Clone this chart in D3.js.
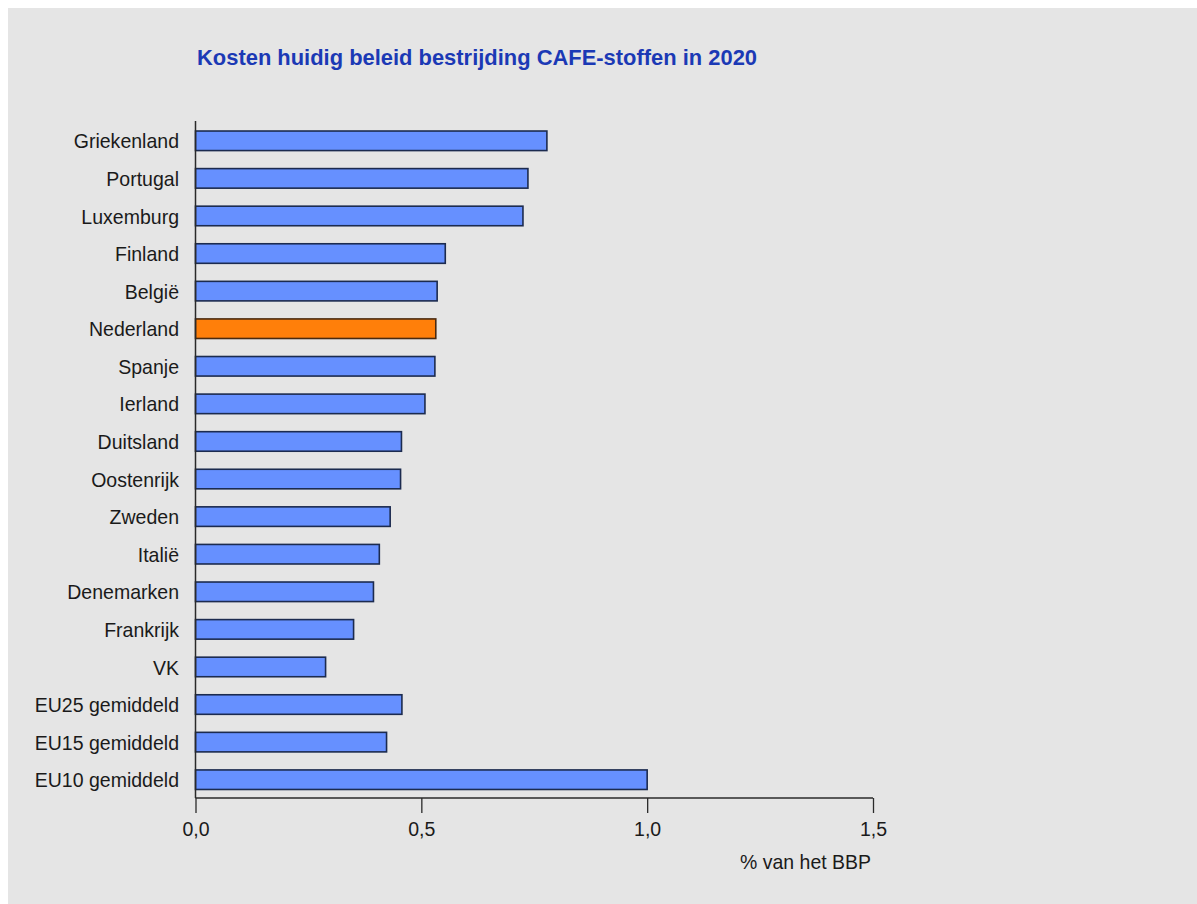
<!DOCTYPE html>
<html>
<head>
<meta charset="utf-8">
<script src="https://cdn.jsdelivr.net/npm/d3@7"></script>
<style>
  html, body { margin: 0; padding: 0; background: #ffffff; }
  svg { display: block; }
</style>
</head>
<body>
<svg id="chart" width="1197" height="904"></svg>
<script>
// Costs of current policy against CAFE substances in 2020, % of GDP
const countries = [
  "Griekenland", "Portugal", "Luxemburg", "Finland", "België", "Nederland",
  "Spanje", "Ierland", "Duitsland", "Oostenrijk", "Zweden", "Italië",
  "Denemarken", "Frankrijk", "VK", "EU25 gemiddeld", "EU15 gemiddeld", "EU10 gemiddeld"
];
const shareOfGdp = [
  0.778, 0.736, 0.725, 0.553, 0.535, 0.532,
  0.530, 0.508, 0.456, 0.454, 0.431, 0.407,
  0.394, 0.350, 0.288, 0.457, 0.423, 1.000
];
const highlighted = ["Nederland"];
const xTicks = [0, 0.5, 1.0, 1.5];
const xTickLabels = ["0,0", "0,5", "1,0", "1,5"];
const titleText = "Kosten huidig beleid bestrijding CAFE-stoffen in 2020";
const unitText = "% van het BBP";

const rows = countries.map((c, i) => ({ name: c, value: shareOfGdp[i] }));
const FONT = "Liberation Sans, Arial, sans-serif";
const CONDENSE = 0.93; // narrow sans look

const svg = d3.select("#chart");

// light grey panel
svg.append("rect")
  .attr("x", 8).attr("y", 8)
  .attr("width", 1197 - 8).attr("height", 904 - 8)
  .attr("fill", "#e5e5e5");

const x = d3.scaleLinear().domain([0, 1.5]).range([195.5, 873]);
const y = d3.scaleBand().domain(countries).range([122, 798.5])
  .paddingInner(0.48).paddingOuter(0.24);

// title
svg.append("text")
  .attr("x", 197).attr("y", 65)
  .attr("font-family", FONT)
  .attr("font-weight", "bold")
  .attr("font-size", 22.5)
  .attr("fill", "#1b39b5")
  .attr("textLength", 560)
  .attr("lengthAdjust", "spacingAndGlyphs")
  .text(titleText);

// bars
svg.append("g").selectAll("rect")
  .data(rows)
  .join("rect")
  .attr("x", x(0))
  .attr("y", d => y(d.name))
  .attr("width", d => x(d.value) - x(0))
  .attr("height", y.bandwidth())
  .attr("fill", d => highlighted.includes(d.name) ? "#ff7f0a" : "#6690ff")
  .attr("stroke", d => highlighted.includes(d.name) ? "#4a2a10" : "#1c2b4f")
  .attr("stroke-width", 1.6);

// category labels
svg.append("g").selectAll("text")
  .data(rows)
  .join("text")
  .attr("transform", d => `translate(179,${y(d.name) + y.bandwidth() / 2}) scale(${CONDENSE},1)`)
  .attr("dy", "0.36em")
  .attr("text-anchor", "end")
  .attr("font-family", FONT)
  .attr("font-size", 21)
  .attr("fill", "#1a1a1a")
  .text(d => d.name);

// x axis
const xAxis = d3.axisBottom(x)
  .tickValues(xTicks)
  .tickSize(15)
  .tickPadding(8)
  .tickFormat((d, i) => xTickLabels[i]);

const gx = svg.append("g")
  .attr("transform", "translate(0,798)")
  .call(xAxis);
gx.select(".domain").attr("stroke", "#2a2a2a").attr("stroke-width", 1.5)
  .attr("d", `M${x(0)},0H${x(1.5)}`);
gx.selectAll(".tick line").attr("stroke", "#2a2a2a").attr("stroke-width", 1.3);
gx.selectAll(".tick text")
  .attr("transform", `scale(${CONDENSE},1)`)
  .attr("font-family", FONT)
  .attr("font-size", 21)
  .attr("fill", "#1a1a1a");

// y axis line
svg.append("line")
  .attr("x1", x(0)).attr("x2", x(0))
  .attr("y1", 121).attr("y2", 798)
  .attr("stroke", "#2a2a2a").attr("stroke-width", 1.5);

// unit label
svg.append("text")
  .attr("transform", `translate(871,869) scale(0.95,1)`)
  .attr("text-anchor", "end")
  .attr("font-family", FONT)
  .attr("font-size", 20.5)
  .attr("fill", "#1a1a1a")
  .text(unitText);
</script>
</body>
</html>
